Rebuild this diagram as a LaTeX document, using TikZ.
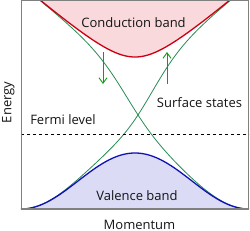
\documentclass[tikz,border=0pt]{standalone}
\usepackage{fontspec}
\setmainfont{Open Sans}
\usetikzlibrary{arrows.meta}
\definecolor{cbfill}{RGB}{250,217,220}
\definecolor{cbline}{RGB}{204,0,17}
\definecolor{vbfill}{RGB}{219,219,245}
\definecolor{vbline}{RGB}{17,17,180}
\definecolor{ssline}{RGB}{40,140,85}
\definecolor{arrgreen}{RGB}{20,155,20}
\definecolor{boxgray}{RGB}{128,128,128}
\definecolor{txt}{RGB}{20,20,20}
\tikzset{
  declare function={
    cb(\x)=87-sqrt(900+0.74*(\x-135)*(\x-135));
    vb(\x)=209-28*(1+cos((\x-135)*1.578947));
    wd(\x)=1/(1+exp((\x-131.7)/15));
    wa(\x)=1/(1+exp((144.3-\x)/15));
    gd(\x)=wd(\x)*cb(\x)+(1-wd(\x))*vb(\x);
    ga(\x)=wa(\x)*cb(\x)+(1-wa(\x))*vb(\x);
  },
  lbl/.style={font=\fontsize{13}{15}\selectfont, text=txt, inner sep=0pt, anchor=base},
  bandline/.style={line width=1.3pt},
  ssstyle/.style={draw=ssline, line width=0.8pt},
  spinarrow/.style={draw=arrgreen, line width=0.9pt, -{Straight Barb[length=5.5pt,width=8pt]}},
}
\begin{document}
\begin{tikzpicture}[x=1pt,y=-1pt]
\useasboundingbox (0,0) rectangle (250,231);
% band fills
\fill[cbfill] plot[domain=40:230,samples=120,smooth] (\x,{cb(\x)}) -- cycle;
\fill[vbfill] plot[domain=21:249,samples=120,smooth] (\x,{vb(\x)}) -- cycle;
% surface states
\draw[ssstyle] plot[domain=40.5:249,samples=160,smooth] (\x,{gd(\x)});
\draw[ssstyle] plot[domain=21:229.5,samples=160,smooth] (\x,{ga(\x)});
% band lines
\draw[cbline,bandline] plot[domain=40:230,samples=120,smooth] (\x,{cb(\x)});
\draw[vbline,bandline] plot[domain=21:249,samples=120,smooth] (\x,{vb(\x)});
% Fermi level
\coordinate (fl) at (21,134);
\coordinate (fr) at (249,134);
\draw[black, line width=0.8pt, dash pattern=on 3pt off 3pt] (fl) -- (fr);
% box
\draw[boxgray, line width=1.2pt] (21.5,0.6) rectangle (248.6,209);
% spin arrows
\coordinate (da1) at (103,52);
\coordinate (da2) at (103,84);
\coordinate (ua1) at (167,84);
\coordinate (ua2) at (167,52);
\draw[spinarrow] (da1) -- (da2);
\draw[spinarrow] (ua1) -- (ua2);
% labels
\node[lbl] (cond) at (133.5,27) {Conduction band};
\node[lbl] (surf) at (199.5,107) {Surface states};
\node[lbl] (ferm) at (63,124) {Fermi level};
\node[lbl] (val) at (137,200) {Valence band};
\node[lbl] (mom) at (139.5,229) {Momentum};
\node[lbl, rotate=90] (ene) at (11.5,102.5) {Energy};
\end{tikzpicture}
\end{document}
